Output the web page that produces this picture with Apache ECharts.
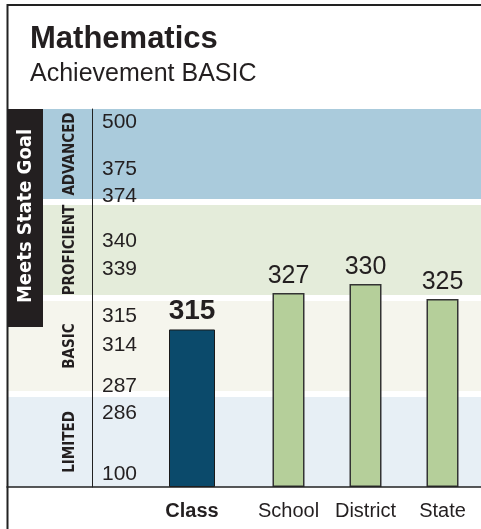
<!DOCTYPE html>
<html>
<head>
<meta charset="utf-8">
<!--
  Mathematics achievement card
  - four performance bands drawn as equal-height stripes
  - the score axis is broken into segments, so values go through toLevel()
  - Class bar sits in its own grid, the three comparison bars in another
-->
<script src="https://cdn.jsdelivr.net/npm/echarts@6/dist/echarts.min.js"></script>
<style>
  html, body { margin: 0; padding: 0; background: #fff; }
  #chart { width: 481px; height: 529px; }
</style>
</head>
<body>
<div id="chart"></div>
<script>
const TITLE = 'Mathematics'
const SUBTITLE = 'Achievement BASIC'
const GOAL_TEXT = 'Meets State Goal'

const CATEGORIES = ['Class', 'School', 'District', 'State']
const SCORES = [315, 327, 330, 325]
const TICK_VALUES = [500, 375, 374, 340, 339, 315, 314, 287, 286, 100]
const BAND_NAMES = ['ADVANCED', 'PROFICIENT', 'BASIC', 'LIMITED']

// broken scale: score -> level (0 = bottom of plot, 378 = top)
const BREAK_VALUES = [100, 286.5, 314.5, 339.5, 374.5, 500]
const BREAK_LEVELS = [0, 87, 156, 232, 305, 378]
const MAX_LEVEL = 378

const BAND_COLORS = ['#aacbdc', '#e4ecda', '#f5f5ed', '#e7eff5']
const INK = '#231f20'
const PLOT_TOP = 109
const PLOT_BOTTOM = 487
const NARROW = '"Liberation Sans Narrow", "DejaVu Sans Condensed", "Liberation Sans", sans-serif'
const SANS = '"Liberation Sans", Arial, sans-serif'

function toLevel(v) {
  for (let i = 1; i < BREAK_VALUES.length; i++) {
    if (v <= BREAK_VALUES[i]) {
      const t = (v - BREAK_VALUES[i - 1]) / (BREAK_VALUES[i] - BREAK_VALUES[i - 1])
      return BREAK_LEVELS[i - 1] + t * (BREAK_LEVELS[i] - BREAK_LEVELS[i - 1])
    }
  }
  return MAX_LEVEL
}

// tick label text by level; pairs like 375/374 are pushed apart
const tickLookup = {}
const maxTick = Math.max(...TICK_VALUES)
TICK_VALUES.forEach(v => {
  const down = TICK_VALUES.includes(v + 1) || v === maxTick
  tickLookup[toLevel(v).toFixed(3)] = down ? ' \n' + v : v + '\n '
})

// bands from top to bottom, each 90 high with a 6 gap
const bands = BAND_NAMES.map((name, i) => {
  const lo = (BAND_NAMES.length - 1 - i) * 96
  return { name, lo, hi: lo + 90, color: BAND_COLORS[i] }
})

const levelToY = l => PLOT_BOTTOM - l / MAX_LEVEL * (PLOT_BOTTOM - PLOT_TOP)

const chart = echarts.init(document.getElementById('chart'))

const levelAxis = (gridIndex) => ({
  type: 'value', gridIndex, min: 0, max: MAX_LEVEL, show: false
})

chart.setOption({
  animation: false,
  title: {
    text: TITLE,
    subtext: SUBTITLE,
    left: 25,
    top: 19,
    itemGap: 7,
    textStyle: { fontFamily: SANS, fontSize: 31, fontWeight: 'bold', color: INK },
    subtextStyle: { fontFamily: SANS, fontSize: 25, color: INK }
  },
  grid: [
    { left: 7, right: 0, top: PLOT_TOP, bottom: 529 - PLOT_BOTTOM },
    { left: 150, width: 84, top: PLOT_TOP, bottom: 529 - PLOT_BOTTOM },
    { left: 250, width: 233, top: PLOT_TOP, bottom: 529 - PLOT_BOTTOM }
  ],
  xAxis: [
    {
      type: 'value', gridIndex: 0, min: 0, max: 1, z: 5,
      axisLine: { show: true, lineStyle: { color: '#222', width: 1.5 } },
      axisTick: { show: false }, axisLabel: { show: false }, splitLine: { show: false }
    },
    {
      type: 'category', gridIndex: 1, data: CATEGORIES.slice(0, 1),
      axisLine: { show: false }, axisTick: { show: false },
      axisLabel: { interval: 0, margin: 14, fontFamily: SANS, fontSize: 20, fontWeight: 'bold', color: INK }
    },
    {
      type: 'category', gridIndex: 2, data: CATEGORIES.slice(1),
      axisLine: { show: false }, axisTick: { show: false },
      axisLabel: { interval: 0, hideOverlap: false, margin: 14, fontFamily: SANS, fontSize: 20, color: INK }
    }
  ],
  yAxis: [
    {
      type: 'value', gridIndex: 0, min: 0, max: MAX_LEVEL, z: 5,
      position: 'left', offset: -85,
      axisLine: { show: true, lineStyle: { color: '#222', width: 1 } },
      axisTick: { show: false },
      splitLine: { show: false },
      axisLabel: {
        inside: true,
        margin: 10,
        customValues: TICK_VALUES.map(toLevel),
        fontFamily: SANS,
        fontSize: 21,
        lineHeight: 26,
        color: INK,
        formatter: v => tickLookup[v.toFixed(3)] || ''
      }
    },
    levelAxis(1),
    levelAxis(2)
  ],
  graphic: [
    {
      type: 'polyline', z: 20, silent: true,
      shape: { points: [[7.5, 529], [7.5, 5], [481, 5]] },
      style: { stroke: '#222', lineWidth: 2, fill: null }
    },
    {
      type: 'rect', z: 20, silent: true,
      shape: { x: 8, y: PLOT_TOP, width: 35, height: 218 },
      style: { fill: '#231f20' }
    },
    {
      type: 'text', z: 21, silent: true,
      x: 26, y: PLOT_TOP + 107, rotation: Math.PI / 2,
      style: {
        text: GOAL_TEXT, align: 'center', verticalAlign: 'middle',
        fill: '#fff', font: 'bold 20px ' + NARROW
      }
    },
    ...bands.map(b => ({
      type: 'text', z: 21, silent: true,
      x: 70, y: levelToY((b.lo + b.hi) / 2), rotation: Math.PI / 2,
      style: {
        text: b.name, align: 'center', verticalAlign: 'middle',
        fill: INK, font: 'bold 15px ' + NARROW
      }
    }))
  ],
  series: [
    {
      type: 'line', xAxisIndex: 0, yAxisIndex: 0, data: [], silent: true, z: 1,
      markArea: {
        silent: true,
        data: bands.map(b => [{ yAxis: b.lo, itemStyle: { color: b.color } }, { yAxis: b.hi }])
      }
    },
    {
      type: 'bar', xAxisIndex: 1, yAxisIndex: 1, barWidth: 46, z: 3,
      data: SCORES.slice(0, 1).map(toLevel),
      itemStyle: { color: '#0b4a6b', borderColor: '#1a1a1a', borderWidth: 1 },
      label: {
        show: true, position: 'top', distance: 4,
        fontFamily: SANS, fontSize: 28, fontWeight: 'bold', color: INK,
        formatter: p => SCORES[p.dataIndex]
      }
    },
    {
      type: 'bar', xAxisIndex: 2, yAxisIndex: 2, barWidth: 32, z: 3,
      data: SCORES.slice(1).map(toLevel),
      itemStyle: { color: '#b5cf9a', borderColor: '#333', borderWidth: 1.5 },
      label: {
        show: true, position: 'top', distance: 4,
        fontFamily: SANS, fontSize: 25, color: INK,
        formatter: p => SCORES[p.dataIndex + 1]
      }
    }
  ]
})
</script>
</body>
</html>
